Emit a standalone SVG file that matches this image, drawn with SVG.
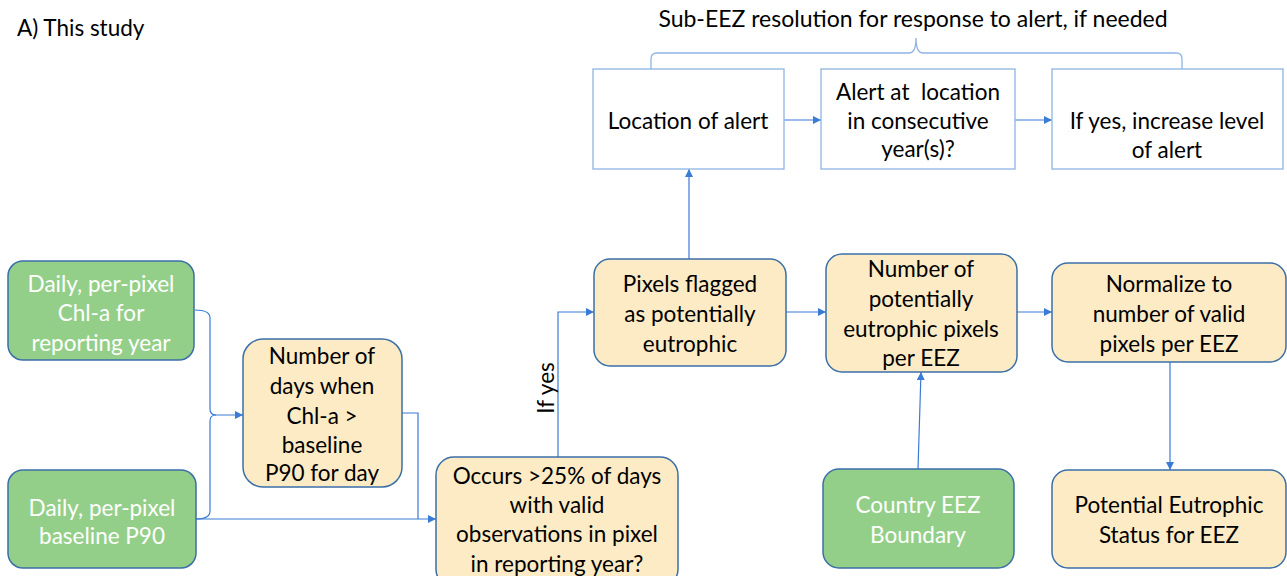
<svg xmlns="http://www.w3.org/2000/svg" width="1287" height="576" viewBox="0 0 1287 576">
<defs>
<marker id="arr" markerUnits="userSpaceOnUse" markerWidth="9" markerHeight="8" refX="8" refY="4" orient="auto">
<path d="M0,0 L8,4 L0,8 z" fill="#3A7BD5"/>
</marker>
<style>
text{font-family:Lato,"Liberation Sans",sans-serif;font-size:22.5px;text-anchor:middle;dominant-baseline:central;fill:#000}
.g rect{fill:#94CF89;stroke:#3B6FA8;stroke-width:1.5}
.g text{fill:#fff}
.y rect{fill:#FCEBC5;stroke:#3B6FA8;stroke-width:1.5}
.w rect{fill:#fff;stroke:#8FB4E3;stroke-width:1.3}
.c path{fill:none;stroke:#3A7BD5;stroke-width:1.2}
.brace{fill:none;stroke:#8FB4E3;stroke-width:1.3}
</style>
</defs>
<rect width="1287" height="576" fill="#fff"/>
<text x="17" y="27" style="text-anchor:start">A) This study</text>
<text x="913" y="18" style="font-size:23px">Sub-EEZ resolution for response to alert, if needed</text>
<path class="brace" d="M651,69 V59 Q651,53 657,53 H909 Q916,53 916,38 Q916,53 923,53 H1176 Q1182,53 1182,59 V69"/>

<g class="c">
<path d="M195,310 Q210,310 210,318 V409 Q210,415 216,415 H243" marker-end="url(#arr)"/>
<path d="M196,519 Q210,519 210,511 V421 Q210,415 216,415"/>
<path d="M196,519 H436" marker-end="url(#arr)"/>
<path d="M402,413 H418 V519"/>
<path d="M558,457 V312 H594" marker-end="url(#arr)"/>
<path d="M689,259 V169" marker-end="url(#arr)"/>
<path d="M786,312 H826" marker-end="url(#arr)"/>
<path d="M1017,312 H1052" marker-end="url(#arr)"/>
<path d="M918,469 L921,372" marker-end="url(#arr)"/>
<path d="M1170,362 V470" marker-end="url(#arr)"/>
<path d="M784,120 H821" marker-end="url(#arr)"/>
<path d="M1015,120 H1052" marker-end="url(#arr)"/>
</g>
<text x="545" y="388" transform="rotate(-90 545 388)">If yes</text>

<g id="n1" class="g"><rect x="8" y="261" width="186" height="99" rx="15"/>
<text x="101" y="283">Daily, per-pixel</text><text x="101" y="312">Chl-a for</text><text x="101" y="342">reporting year</text></g>
<g id="n2" class="g"><rect x="8" y="470" width="188" height="98" rx="15"/>
<text x="102" y="507">Daily, per-pixel</text><text x="102" y="535">baseline P90</text></g>
<g id="n3" class="y"><rect x="243" y="339" width="159" height="148" rx="20"/>
<text x="322" y="355">Number of</text><text x="322" y="385">days when</text><text x="322" y="415">Chl-a &gt;</text><text x="322" y="444">baseline</text><text x="322" y="472">P90 for day</text></g>
<g id="n4" class="y"><rect x="436" y="457" width="242" height="130" rx="18"/>
<text x="557" y="475">Occurs &gt;25% of days</text><text x="557" y="504">with valid</text><text x="557" y="533">observations in pixel</text><text x="557" y="563">in reporting year?</text></g>
<g id="n5" class="y"><rect x="594" y="259" width="192" height="107" rx="16"/>
<text x="690" y="283">Pixels flagged</text><text x="690" y="313">as potentially</text><text x="690" y="343">eutrophic</text></g>
<g id="n6" class="y"><rect x="826" y="254" width="191" height="118" rx="16"/>
<text x="921" y="268">Number of</text><text x="921" y="298">potentially</text><text x="921" y="328">eutrophic pixels</text><text x="921" y="357">per EEZ</text></g>
<g id="n7" class="y"><rect x="1052" y="263" width="234" height="99" rx="16"/>
<text x="1169" y="283">Normalize to</text><text x="1169" y="313">number of valid</text><text x="1169" y="343">pixels per EEZ</text></g>
<g id="n8" class="g"><rect x="823" y="469" width="191" height="99" rx="16"/>
<text x="918" y="504">Country EEZ</text><text x="918" y="534">Boundary</text></g>
<g id="n9" class="y"><rect x="1052" y="470" width="234" height="98" rx="16"/>
<text x="1169" y="504">Potential Eutrophic</text><text x="1169" y="534">Status for EEZ</text></g>
<g id="t1" class="w"><rect x="593" y="69" width="191" height="100"/>
<text x="688" y="120">Location of alert</text></g>
<g id="t2" class="w"><rect x="821" y="69" width="194" height="100"/>
<text x="918" y="91">Alert at&#160; location</text><text x="918" y="120">in consecutive</text><text x="918" y="148">year(s)?</text></g>
<g id="t3" class="w"><rect x="1052" y="69" width="231" height="100"/>
<text x="1167" y="120">If yes, increase level</text><text x="1167" y="149">of alert</text></g>
</svg>
